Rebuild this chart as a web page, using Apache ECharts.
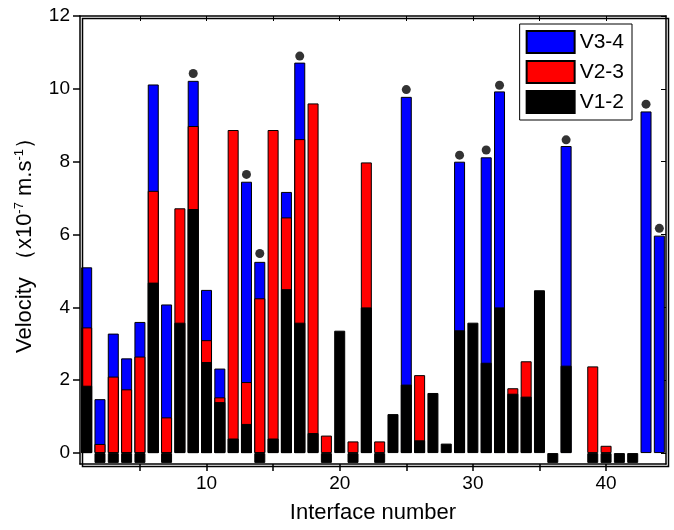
<!DOCTYPE html>
<html>
<head>
<meta charset="utf-8">
<script src="https://cdn.jsdelivr.net/npm/echarts@6/dist/echarts.min.js"></script>
<style>html,body{margin:0;padding:0;background:#fff}#main{width:674px;height:530px}</style>
</head>
<body>
<div id="main"></div>
<script>
var idx = [];
for (var i = 1; i <= 44; i++) idx.push(i);
// top value of each colored segment; '-' = none, Z = small square below zero
var Z = -0.27;
var v34 = [5.1,1.48,3.28,2.6,3.6,10.12,4.08,'-',10.22,4.48,2.32,'-',7.45,5.25,'-',7.17,10.72,'-','-','-','-','-','-','-',9.78,'-','-','-',8.0,'-',8.12,9.93,'-','-','-','-',8.43,'-','-','-','-','-',9.38,5.97];
var v23 = [3.45,0.25,2.1,1.75,2.65,7.2,0.98,6.72,8.98,3.1,1.53,8.87,1.95,4.25,8.87,6.47,8.62,9.6,0.48,'-',0.32,7.98,0.32,'-','-',2.14,'-','-','-','-','-','-',1.78,2.52,'-','-','-','-',2.38,0.2,'-','-','-','-'];
var v12 = [1.85,Z,Z,Z,Z,4.68,Z,3.58,6.7,2.5,1.4,0.4,0.8,Z,0.4,4.5,3.58,0.55,Z,3.36,Z,4.0,Z,1.07,1.88,0.35,1.65,0.26,3.37,3.58,2.48,4.0,1.63,1.55,4.47,Z,2.4,'-',Z,Z,Z,Z,'-','-'];
var dotX = [9,13,14,17,25,29,31,32,37,43,44];
var dotY = [10.42,7.65,5.48,10.9,9.98,8.18,8.32,10.1,8.6,9.58,6.17];

function pairs(vals) {
    var out = [];
    for (var i = 0; i < vals.length; i++) out.push([idx[i], vals[i]]);
    return out;
}
var dots = [];
for (var j = 0; j < dotX.length; j++) dots.push([dotX[j], dotY[j]]);

var barStyle = function (c) {
    return { color: c, borderColor: '#000', borderWidth: 1 };
};
var font = 'Liberation Sans, Arial, sans-serif';
var axLine = { show: true, onZero: false, lineStyle: { color: '#000', width: 1.5 } };
var chart = echarts.init(document.getElementById('main'));
chart.setOption({
    animation: false,
    textStyle: { fontFamily: font },
    grid: { left: 80, right: 8, top: 16, bottom: 66 },
    // plot frame
    graphic: [{
        type: 'rect', left: 80, top: 16, z: 10, silent: true,
        shape: { width: 586, height: 448 },
        style: { fill: null, stroke: '#000', lineWidth: 1.5 }
    }],
    legend: {
        data: ['V3-4', 'V2-3', 'V1-2'],
        orient: 'vertical',
        right: 42, top: 24,
        icon: 'rect',
        itemWidth: 48, itemHeight: 22, itemGap: 6,
        borderColor: '#000', borderWidth: 1, borderRadius: 0, padding: [6, 8, 6, 6],
        textStyle: { fontSize: 21, color: '#000', fontFamily: font }
    },
    xAxis: [{
        type: 'value', min: 0.5, max: 44.5,
        axisLine: axLine,
        axisTick: { customValues: [5,10,15,20,25,30,35,40], length: 7, lineStyle: { color: '#000', width: 1.5 } },
        axisLabel: { customValues: [10,20,30,40], fontSize: 19, color: '#000', margin: 10 },
        splitLine: { show: false },
        name: 'Interface number', nameLocation: 'middle', nameGap: 38,
        nameTextStyle: { fontSize: 22, color: '#000' }
    }, {
        type: 'value', min: 0.5, max: 44.5, position: 'top',
        axisLine: axLine,
        axisTick: { inside: true, customValues: [5,10,15,20,25,30,35,40], length: 5, lineStyle: { color: '#000' } },
        axisLabel: { show: false }, splitLine: { show: false }
    }],
    yAxis: [{
        type: 'value', min: -0.3, max: 12,
        axisLine: axLine,
        axisTick: { show: true, customValues: [0,2,4,6,8,10,12], length: 7, lineStyle: { color: '#000', width: 1.5 } },
        axisLabel: { customValues: [0,2,4,6,8,10,12], fontSize: 19, color: '#000', margin: 10 },
        splitLine: { show: false },
        name: '{a|Velocity （x10}{s|-7}{a| m.s}{s|-1}{a|）}',
        nameLocation: 'middle', nameGap: 44,
        nameTextStyle: {
            rich: {
                a: { fontSize: 22, color: '#000', fontFamily: font },
                s: { fontSize: 13, color: '#000', fontFamily: font, verticalAlign: 'top', padding: [0, 0, 10, 0] }
            }
        }
    }, {
        type: 'value', min: -0.3, max: 12, position: 'right',
        axisLine: axLine,
        axisTick: { show: true, inside: true, customValues: [0,2,4,6,8,10,12], length: 5, lineStyle: { color: '#000' } },
        axisLabel: { show: false }, splitLine: { show: false }
    }],
    series: [
        { name: 'V3-4', type: 'bar', barWidth: 11, barGap: '-100%', itemStyle: barStyle('#0000ff'), data: pairs(v34), z: 2 },
        { name: 'V2-3', type: 'bar', barWidth: 11, barGap: '-100%', itemStyle: barStyle('#ff0000'), data: pairs(v23), z: 3 },
        { name: 'V1-2', type: 'bar', barWidth: 11, barGap: '-100%', itemStyle: barStyle('#000000'), data: pairs(v12), z: 4 },
        { name: 'dots', type: 'scatter', symbolSize: 9, itemStyle: { color: '#000' }, data: dots, z: 5 }
    ]
});
</script>
</body>
</html>
